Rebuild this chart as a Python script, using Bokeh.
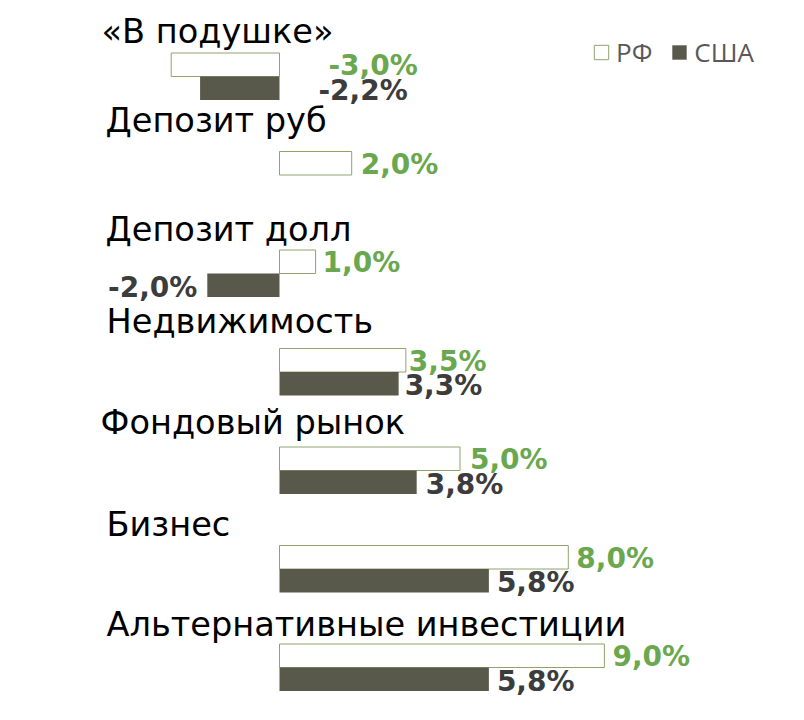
from bokeh.plotting import figure
from bokeh.models import ColumnDataSource, Range1d, Legend, LegendItem
from bokeh.transform import dodge
from bokeh.core.properties import value
from bokeh.embed import file_html
from bokeh.resources import INLINE
import math

# ---- data ----
categories = ["«В подушке»", "Депозит руб", "Депозит долл", "Недвижимость",
              "Фондовый рынок", "Бизнес", "Альтернативные инвестиции"]
rf_vals = [-3.0, 2.0, 1.0, 3.5, 5.0, 8.0, 9.0]
us_vals = [-2.2, float("nan"), -2.0, 3.3, 3.8, 5.8, 5.8]
series_names = ["РФ", "США"]

# ---- styling / placement ----
W, H = 788, 704
PX_PER_PCT = 36.1
ZERO_PX = 279.0
ROW_PX = 98.5
ROW0_PX = 76.0
BAR_PX = 23.5

GREEN = "#6aa84f"
DARK_TXT = "#3c3c3c"
US_FILL = "#58584b"
RF_LINE = "#8da46e"

x0 = -ZERO_PX / PX_PER_PCT
x1 = x0 + W / PX_PER_PCT
y_top = -ROW0_PX / ROW_PX
y_bot = (H - ROW0_PX) / ROW_PX
bar_h = BAR_PX / ROW_PX

idx = list(range(len(categories)))

def fmt(v):
    return ("%.1f%%" % v).replace(".", ",")

p = figure(width=W, height=H, output_backend="svg", toolbar_location=None,
           x_range=Range1d(x0, x1), y_range=Range1d(y_bot, y_top),
           x_axis_location=None, y_axis_location=None, min_border=0,
           outline_line_color=None)
p.xgrid.visible = False
p.ygrid.visible = False
p.background_fill_color = "white"

src = ColumnDataSource(dict(idx=idx, rf=rf_vals, us=us_vals, cat=categories))
rf_r = p.hbar(y=dodge("idx", -bar_h / 2), left=0, right="rf", height=bar_h,
              source=src, fill_color="white", line_color=RF_LINE, line_width=1)
us_r = p.hbar(y=dodge("idx", bar_h / 2), left=0, right="us", height=bar_h,
              source=src, fill_color=US_FILL, line_color=None)

# category labels (hand-placed in the original, so offsets vary by row)
cat_dx = [-178, -174, -174, -173, -179, -173, -173]
cat_dy = [-45, -55, -44, -51, -48, -45, -43]
p.text(x=[0] * len(idx), y=idx, text=categories, x_offset=cat_dx,
       y_offset=cat_dy, text_baseline="alphabetic", text_align="left",
       text_font=value("DejaVu Sans"), text_font_size="33.6px", text_color="black")

# value labels
rf_at_zero = [True, False, False, False, False, False, False]
rf_dx = [49, 9, 7, 3, 10, 8, 8]
us_at_zero = [True, False, False, False, False, False, False]
us_dx = [39, 0, -10, 6, 9, 8, 8]

rf_lx, rf_lt, rf_ly, rf_ox = [], [], [], []
for i, v in enumerate(rf_vals):
    rf_lx.append(0 if rf_at_zero[i] else v)
    rf_lt.append(fmt(v))
    rf_ly.append(i - bar_h / 2)
    rf_ox.append(rf_dx[i])
p.text(x=rf_lx, y=rf_ly, text=rf_lt, x_offset=rf_ox, y_offset=1,
       text_baseline="middle", text_align="left",
       text_font=value("DejaVu Sans"), text_font_style="bold",
       text_font_size="28px", text_color=GREEN)

us_l = dict(x=[], y=[], t=[], ox=[], al=[])
for i, v in enumerate(us_vals):
    if math.isnan(v):
        continue
    at_zero = us_at_zero[i]
    us_l["x"].append(0 if at_zero else v)
    us_l["y"].append(i + bar_h / 2)
    us_l["t"].append(fmt(v))
    us_l["ox"].append(us_dx[i])
    us_l["al"].append("left" if (v >= 0 or at_zero) else "right")
src_us = ColumnDataSource(us_l)
p.text(x="x", y="y", text="t", x_offset="ox", text_align="al", y_offset=2,
       source=src_us, text_baseline="middle",
       text_font=value("DejaVu Sans"), text_font_style="bold",
       text_font_size="28px", text_color=DARK_TXT)

legend = Legend(items=[LegendItem(label=series_names[0], renderers=[rf_r]),
                       LegendItem(label=series_names[1], renderers=[us_r])],
                orientation="horizontal", location=(592, 634),
                glyph_width=18, glyph_height=18, label_height=18,
                label_text_font="Open Sans", label_text_font_size="26px",
                label_text_color="#595959", label_standoff=6, spacing=18,
                padding=0, margin=0, border_line_color=None,
                background_fill_alpha=0)
p.add_layout(legend)

open("out.html", "w").write(file_html(p, INLINE))
